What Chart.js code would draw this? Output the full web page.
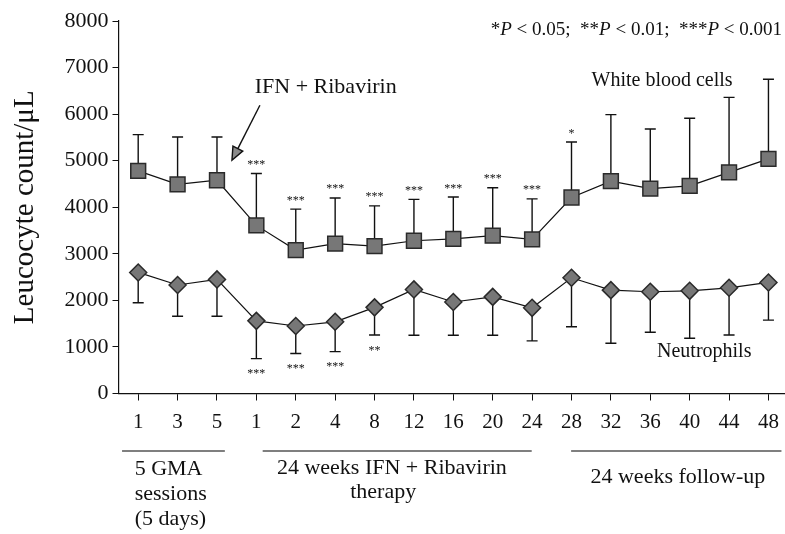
<!DOCTYPE html>
<html>
<head>
<meta charset="utf-8">
<script src="https://cdn.jsdelivr.net/npm/chart.js@4/dist/chart.umd.min.js"></script>
<style>
html,body{margin:0;padding:0;background:#fff;}
#c{display:block;}
</style>
</head>
<body>
<canvas id="c" width="785" height="534" style="width:785px;height:534px"></canvas>
<script>
// ---- data ----
const xLabels  = ['1','3','5','1','2','4','8','12','16','20','24','28','32','36','40','44','48'];
const wbcMean  = [4780,4490,4580,3610,3080,3220,3165,3280,3320,3390,3310,4210,4560,4400,4460,4750,5040];
const wbcUpper = [5560,5510,5510,4725,3960,4200,4030,4170,4220,4420,4180,5400,5990,5680,5910,6360,6750];
const neuMean  = [2600,2330,2450,1560,1450,1540,1850,2235,1965,2075,1840,2485,2220,2185,2205,2270,2385];
const neuLower = [1950,1660,1660,750,860,900,1255,1250,1250,1250,1130,1435,1080,1315,1185,1255,1575];
const wbcSig   = ['','','','***','***','***','***','***','***','***','***','*','','','','',''];
const neuSig   = ['','','','***','***','***','**','','','','','','','','','',''];
const yTicks   = [0,1000,2000,3000,4000,5000,6000,7000,8000];
const seriesNames = ['White blood cells','Neutrophils'];
const periodLabels = [['5 GMA','sessions','(5 days)'],['24 weeks IFN + Ribavirin','therapy'],['24 weeks follow-up']];
const arrowLabel = 'IFN + Ribavirin';

const SERIF = "'Liberation Serif','Times New Roman',serif";

const overlay = {
  id: 'overlay',
  beforeDatasetsDraw(chart) {
    const ctx = chart.ctx, xs = chart.scales.x, ys = chart.scales.y;
    ctx.save();
    ctx.strokeStyle = '#111';
    ctx.lineWidth = 1.4;
    const cap = 5.5;
    for (let i = 0; i < xLabels.length; i++) {
      const x = xs.getPixelForValue(i);
      let y0 = ys.getPixelForValue(wbcMean[i]), y1 = ys.getPixelForValue(wbcUpper[i]);
      ctx.beginPath(); ctx.moveTo(x, y0); ctx.lineTo(x, y1);
      ctx.moveTo(x - cap, y1); ctx.lineTo(x + cap, y1); ctx.stroke();
      y0 = ys.getPixelForValue(neuMean[i]); y1 = ys.getPixelForValue(neuLower[i]);
      ctx.beginPath(); ctx.moveTo(x, y0); ctx.lineTo(x, y1);
      ctx.moveTo(x - cap, y1); ctx.lineTo(x + cap, y1); ctx.stroke();
    }
    ctx.restore();
  },
  afterDraw(chart) {
    const ctx = chart.ctx, xs = chart.scales.x, ys = chart.scales.y;
    const bottom = chart.chartArea.bottom;
    ctx.save();
    ctx.fillStyle = '#111';
    // significance stars
    ctx.font = '12px ' + SERIF;
    ctx.textAlign = 'center';
    ctx.textBaseline = 'alphabetic';
    for (let i = 0; i < xLabels.length; i++) {
      const x = xs.getPixelForValue(i);
      if (wbcSig[i]) ctx.fillText(wbcSig[i], x, ys.getPixelForValue(wbcUpper[i]) - 12 + 6.5);
      if (neuSig[i]) ctx.fillText(neuSig[i], x, ys.getPixelForValue(neuLower[i]) + 12 + 6.5);
    }
    // P-value note (top right), italic P
    ctx.textBaseline = 'middle';
    ctx.textAlign = 'left';
    const parts = [['*',0],['P',1],[' < 0.05;  **',0],['P',1],[' < 0.01;  ***',0],['P',1],[' < 0.001',0]];
    const fN = '19px ' + SERIF, fI = 'italic 19px ' + SERIF;
    let w = 0;
    parts.forEach(p => { ctx.font = p[1] ? fI : fN; w += ctx.measureText(p[0]).width; });
    let px = 782 - w;
    parts.forEach(p => { ctx.font = p[1] ? fI : fN; ctx.fillText(p[0], px, 30); px += ctx.measureText(p[0]).width; });

    // series labels
    ctx.font = '20px ' + SERIF;
    ctx.textAlign = 'center';
    ctx.fillText(seriesNames[0], xs.getPixelForValue(13.3), ys.getPixelForValue(6720));
    ctx.fillText(seriesNames[1], xs.getPixelForValue(14.37), ys.getPixelForValue(890));

    // arrow annotation
    ctx.font = '22px ' + SERIF;
    ctx.fillText(arrowLabel, xs.getPixelForValue(4.76), ys.getPixelForValue(6580));
    const ax0 = xs.getPixelForValue(3.09), ay0 = ys.getPixelForValue(6190);
    const ax1 = xs.getPixelForValue(2.38), ay1 = ys.getPixelForValue(5010);
    const ang = Math.atan2(ay1 - ay0, ax1 - ax0);
    const hl = 13, hw = 5.5;
    const bx = ax1 - hl * Math.cos(ang), by = ay1 - hl * Math.sin(ang);
    ctx.strokeStyle = '#111'; ctx.lineWidth = 1.4;
    ctx.beginPath(); ctx.moveTo(ax0, ay0); ctx.lineTo(bx, by); ctx.stroke();
    ctx.beginPath();
    ctx.moveTo(ax1, ay1);
    ctx.lineTo(bx + hw * Math.sin(ang), by - hw * Math.cos(ang));
    ctx.lineTo(bx - hw * Math.sin(ang), by + hw * Math.cos(ang));
    ctx.closePath();
    ctx.fillStyle = '#8a8a8a'; ctx.fill(); ctx.stroke();

    // period brackets below axis
    ctx.fillStyle = '#111';
    ctx.strokeStyle = '#555'; ctx.lineWidth = 1.5;
    const ly = bottom + 57.5;
    [[-0.41, 2.2], [3.16, 9.99], [10.99, 16.33]].forEach(r => {
      ctx.beginPath(); ctx.moveTo(xs.getPixelForValue(r[0]), ly); ctx.lineTo(xs.getPixelForValue(r[1]), ly); ctx.stroke();
    });
    ctx.font = '22px ' + SERIF;
    ctx.textAlign = 'left';
    periodLabels[0].forEach((t, k) => ctx.fillText(t, xs.getPixelForValue(-0.09), bottom + 76 + 25 * k));
    ctx.textAlign = 'center';
    ctx.fillText(periodLabels[1][0], xs.getPixelForValue(6.44), bottom + 75);
    ctx.fillText(periodLabels[1][1], xs.getPixelForValue(6.22), bottom + 99);
    ctx.fillText(periodLabels[2][0], xs.getPixelForValue(13.7), bottom + 84);
    ctx.restore();
  }
};

new Chart(document.getElementById('c'), {
  type: 'line',
  data: {
    datasets: [
      {
        label: seriesNames[0],
        data: wbcMean.map((v, i) => ({ x: i, y: v })),
        borderColor: '#111', borderWidth: 1.2,
        pointStyle: 'rect', pointRadius: 10.5,
        pointBackgroundColor: '#777', pointBorderColor: '#2a2a2a', pointBorderWidth: 1.5,
        tension: 0, clip: false
      },
      {
        label: seriesNames[1],
        data: neuMean.map((v, i) => ({ x: i, y: v })),
        borderColor: '#111', borderWidth: 1.2,
        pointStyle: 'rectRot', pointRadius: 8.5,
        pointBackgroundColor: '#777', pointBorderColor: '#2a2a2a', pointBorderWidth: 1.5,
        tension: 0, clip: false
      }
    ]
  },
  options: {
    responsive: false,
    devicePixelRatio: 1,
    animation: false,
    layout: { autoPadding: false, padding: { top: 21, right: 0, left: 0, bottom: 0 } },
    plugins: { legend: { display: false }, tooltip: { enabled: false } },
    scales: {
      x: {
        type: 'linear', min: -0.5, max: 16.42,
        afterBuildTicks: s => { s.ticks = xLabels.map((_, i) => ({ value: i })); },
        afterFit: s => { s.height = 140.5; s.paddingLeft = 0; s.paddingRight = 0; },
        ticks: {
          autoSkip: false, maxRotation: 0,
          callback: v => xLabels[v] ?? '',
          font: { family: SERIF, size: 21 }, color: '#111', padding: 9
        },
        grid: { drawOnChartArea: false, drawTicks: true, tickLength: 7, color: '#111' },
        border: { display: true, color: '#111', width: 1.2 }
      },
      y: {
        min: 0, max: 8000,
        afterBuildTicks: s => { s.ticks = yTicks.map(v => ({ value: v })); },
        afterFit: s => { s.width = 118.5; },
        ticks: { font: { family: SERIF, size: 22 }, color: '#111', padding: 4, callback: v => String(v) },
        grid: { drawOnChartArea: false, drawTicks: true, tickLength: 6, color: '#111' },
        border: { display: true, color: '#111', width: 1.2 },
        title: { display: true, text: 'Leucocyte count/\u03bcL', font: { family: SERIF, size: 29 }, color: '#111', padding: { top: 8, bottom: 4 } }
      }
    }
  },
  plugins: [overlay]
});
</script>
</body>
</html>
